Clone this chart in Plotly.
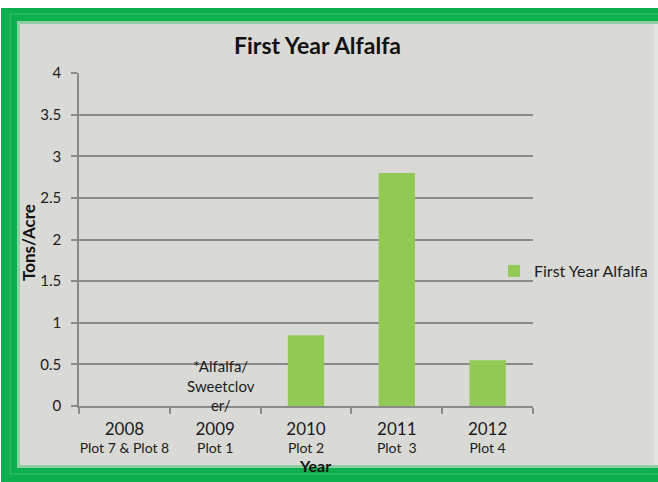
import plotly.graph_objects as go

# Yield data: First Year Alfalfa (tons per acre)
years = ["2008", "2009", "2010", "2011", "2012"]
plots = ["Plot 7 & Plot 8", "Plot 1", "Plot 2", "Plot  3", "Plot 4"]
tons_per_acre = [0, None, 0.85, 2.8, 0.55]
note_2009 = "*Alfalfa/<br>Sweetclov<br>er/"
y_ticks = [0, 0.5, 1, 1.5, 2, 2.5, 3, 3.5, 4]

FONT = "Lato, 'Open Sans', sans-serif"
TEXT = "#1c1c1c"
BAR = "#92C955"
GRID = "#8a8a8a"
FRAME = "#0DB04F"
PANEL = "#D9D9D5"

W, H = 658, 482
L, R, T, B = 79, 125, 73, 76
PW, PH = W - L - R, H - T - B


def px_x(px):
    return (px - L) / PW


def px_y(py):
    return (H - B - py) / PH


tick_text = [
    f"<span style='font-size:17px'>{y}</span><br>{p}" for y, p in zip(years, plots)
]

fig = go.Figure()
fig.add_trace(
    go.Bar(
        x=years,
        y=tons_per_acre,
        name="First Year Alfalfa",
        marker=dict(color=BAR, line=dict(width=0)),
        showlegend=True,
    )
)

shapes = [
    # green frame
    dict(type="rect", xref="paper", yref="paper",
         x0=px_x(1), x1=px_x(W + 2), y0=px_y(8), y1=px_y(H + 2),
         fillcolor=FRAME, line=dict(width=0), layer="below"),
    # thin light inner stripe of the frame
    dict(type="rect", xref="paper", yref="paper",
         x0=px_x(10), x1=px_x(W + 2), y0=px_y(14), y1=px_y(H - 8),
         fillcolor="rgba(0,0,0,0)", line=dict(width=1, color="#3CC070"), layer="below"),
    # soft edge
    dict(type="rect", xref="paper", yref="paper",
         x0=px_x(17), x1=px_x(W + 2), y0=px_y(21), y1=px_y(H - 14),
         fillcolor="#8FCDA3", line=dict(width=0), layer="below"),
    # pale right edge
    dict(type="rect", xref="paper", yref="paper",
         x0=px_x(20), x1=px_x(W + 2), y0=px_y(24), y1=px_y(H - 17),
         fillcolor="#E4E6E2", line=dict(width=0), layer="below"),
    # grey panel
    dict(type="rect", xref="paper", yref="paper",
         x0=px_x(20), x1=px_x(W - 4), y0=px_y(24), y1=px_y(H - 17),
         fillcolor=PANEL, line=dict(width=0), layer="below"),
]

annotations = [
    # note above the 2009 category (index position on the category axis)
    dict(text=note_2009, x=years.index("2009"), y=0.25, xref="x", yref="y",
         xshift=6, showarrow=False, align="center",
         font=dict(family=FONT, size=15, color=TEXT)),
    dict(text="<b>First Year Alfalfa</b>", x=px_x(317), y=px_y(45),
         xref="paper", yref="paper", showarrow=False,
         xanchor="center", yanchor="middle",
         font=dict(family=FONT, size=23, color="#111111")),
    dict(text="<b>Tons/Acre</b>", x=px_x(28), y=px_y(243),
         xref="paper", yref="paper", showarrow=False, textangle=-90,
         xanchor="center", yanchor="middle",
         font=dict(family=FONT, size=17, color="#111111")),
    dict(text="<b>Year</b>", x=px_x(315), y=px_y(465),
         xref="paper", yref="paper", showarrow=False,
         xanchor="center", yanchor="middle",
         font=dict(family=FONT, size=16, color="#111111")),
]

fig.update_layout(
    width=W, height=H,
    margin=dict(l=L, r=R, t=T, b=B, pad=0, autoexpand=False),
    paper_bgcolor="white",
    plot_bgcolor="rgba(0,0,0,0)",
    bargap=0.6,
    shapes=shapes,
    annotations=annotations,
    font=dict(family=FONT, size=15, color=TEXT),
    legend=dict(
        x=px_x(494), y=px_y(271), xanchor="left", yanchor="middle",
        bgcolor="rgba(0,0,0,0)", font=dict(family=FONT, size=16, color=TEXT),
        itemwidth=30,
    ),
    xaxis=dict(
        type="category", categoryorder="array", categoryarray=years,
        range=[-0.5, len(years) - 0.5],
        tickmode="array", tickvals=years, ticktext=tick_text, tickangle=0,
        showline=True, linecolor=GRID, linewidth=1.5,
        ticks="outside", ticklen=6, tickcolor=GRID, tickwidth=1.5,
        tickson="boundaries", showgrid=False, zeroline=False,
        tickfont=dict(family=FONT, size=14, color=TEXT),
        ticklabelstandoff=10,
        automargin=False, fixedrange=True,
    ),
    yaxis=dict(
        range=[0, 4], tickvals=y_ticks,
        ticktext=[f"{v:g}" for v in y_ticks],
        showline=True, linecolor=GRID, linewidth=1.5,
        ticks="outside", ticklen=6, tickcolor=GRID, tickwidth=1.5,
        showgrid=True, gridcolor=GRID, gridwidth=1.5, zeroline=False,
        tickfont=dict(family=FONT, size=15, color=TEXT),
        ticklabelstandoff=7,
        automargin=False, fixedrange=True,
    ),
)

fig.write_html("out.html", config=dict(displayModeBar=False))
